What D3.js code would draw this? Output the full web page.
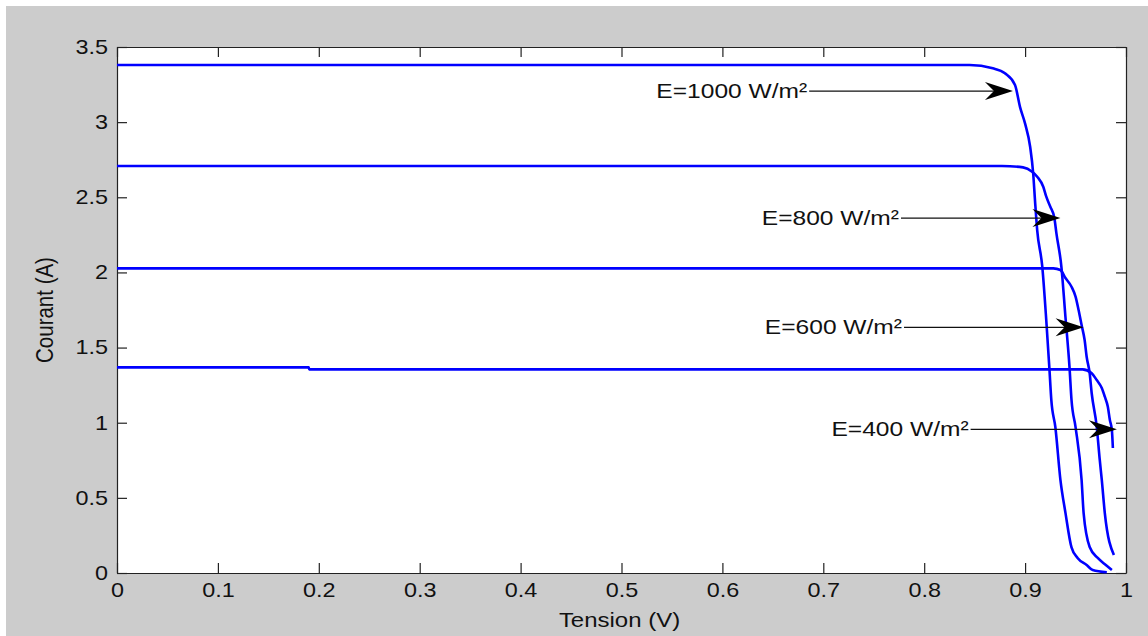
<!DOCTYPE html>
<html>
<head>
<meta charset="utf-8">
<script src="https://cdn.jsdelivr.net/npm/d3@7"></script>
<style>
  body { margin: 0; background: #fff; }
  text { font-family: "Liberation Sans", Arial, sans-serif; fill: #111; }
</style>
</head>
<body>
<svg id="chart"></svg>
<script>
// I-V curves of the cell for 4 irradiance levels
const xTicks = [0, 0.1, 0.2, 0.3, 0.4, 0.5, 0.6, 0.7, 0.8, 0.9, 1]
const yTicks = [0, 0.5, 1, 1.5, 2, 2.5, 3, 3.5]

const v1000 = [0, 0.845, 0.868, 0.880, 0.890, 0.895, 0.900, 0.905, 0.908, 0.910, 0.912, 0.917, 0.921, 0.924, 0.926, 0.930, 0.935, 0.940, 0.946, 0.952, 0.961, 0.967, 0.981]
const i1000 = [3.38, 3.38, 3.358, 3.325, 3.247, 3.10, 2.99, 2.836, 2.66, 2.46, 2.28, 2.04, 1.68, 1.37, 1.15, 0.97, 0.62, 0.40, 0.17, 0.10, 0.053, 0.02, 0.005]

const v800 = [0, 0.877, 0.898, 0.907, 0.912, 0.918, 0.921, 0.925, 0.929, 0.931, 0.936, 0.940, 0.944, 0.946, 0.950, 0.956, 0.958, 0.964, 0.972, 0.980, 0.986]
const i800 = [2.708, 2.708, 2.699, 2.670, 2.637, 2.570, 2.504, 2.437, 2.362, 2.262, 2.036, 1.703, 1.370, 1.151, 0.971, 0.619, 0.399, 0.173, 0.10, 0.053, 0.02]

const v600 = [0, 0.928, 0.935, 0.940, 0.946, 0.950, 0.953, 0.956, 0.959, 0.961, 0.964, 0.966, 0.971, 0.974, 0.976, 0.979, 0.988]
const i600 = [2.027, 2.027, 2.016, 1.963, 1.905, 1.839, 1.750, 1.650, 1.550, 1.439, 1.329, 1.196, 0.973, 0.752, 0.619, 0.399, 0.12]

const v400 = [0, 0.19, 0.1905, 0.957, 0.966, 0.971, 0.976, 0.979, 0.982, 0.984, 0.986, 0.987]
const i400 = [1.368, 1.368, 1.355, 1.355, 1.329, 1.284, 1.231, 1.173, 1.106, 1.018, 0.951, 0.832]

// annotation arrows
const labels = ["E=1000 W/m²", "E=800 W/m²", "E=600 W/m²", "E=400 W/m²"]
const tailV = [0.686, 0.777, 0.780, 0.846]
const tipV = [0.888, 0.935, 0.958, 0.991]
const arrowI = [3.207, 2.362, 1.635, 0.956]

const width = 1148, height = 636
const margin = {top: 47, right: 22, bottom: 63, left: 117}
const sx = 1.17 // text in the figure is a bit wider than plain Arial

const svg = d3.select("#chart")
  .attr("width", width)
  .attr("height", height)

svg.append("rect")
  .attr("x", 6).attr("y", 6)
  .attr("width", width - 6).attr("height", height - 6)
  .attr("fill", "#cccccc")

const x = d3.scaleLinear().domain([0, 1]).range([margin.left, width - margin.right])
const y = d3.scaleLinear().domain([0, 3.5]).range([height - margin.bottom, margin.top])

svg.append("rect")
  .attr("x", x(0)).attr("y", y(3.5))
  .attr("width", x(1) - x(0)).attr("height", y(0) - y(3.5))
  .attr("fill", "#fff")

function stretch(sel) {
  sel.each(function() {
    const t = d3.select(this)
    const tx = +t.attr("x") || 0, ty = +t.attr("y") || 0
    t.attr("x", null).attr("y", null)
      .attr("transform", `translate(${tx},${ty}) scale(${sx},1)`)
  })
}

const fmt = d => String(d)

const axisStyle = g => {
  g.selectAll("path.domain").attr("stroke", "#222").attr("stroke-width", 1.2)
  g.selectAll(".tick line").attr("stroke", "#222").attr("stroke-width", 1.2)
  g.selectAll("text").attr("font-size", 20).attr("font-family", "Liberation Sans, Arial, sans-serif").attr("fill", "#111")
}

svg.append("g")
  .attr("transform", `translate(0,${y(0)})`)
  .call(d3.axisBottom(x).tickValues(xTicks).tickFormat(fmt).tickSize(-10).tickSizeOuter(0).tickPadding(10))
  .call(axisStyle)
  .call(g => g.selectAll("text").call(stretch))

svg.append("g")
  .attr("transform", `translate(0,${y(3.5)})`)
  .call(d3.axisTop(x).tickValues(xTicks).tickFormat("").tickSize(-10).tickSizeOuter(0))
  .call(axisStyle)

svg.append("g")
  .attr("transform", `translate(${x(0)},0)`)
  .call(d3.axisLeft(y).tickValues(yTicks).tickFormat(fmt).tickSize(-10).tickSizeOuter(0).tickPadding(9))
  .call(axisStyle)
  .call(g => g.selectAll("text").call(stretch))

svg.append("g")
  .attr("transform", `translate(${x(1)},0)`)
  .call(d3.axisRight(y).tickValues(yTicks).tickFormat("").tickSize(-10).tickSizeOuter(0))
  .call(axisStyle)

// curves
const series = [
  {name: "1000", v: v1000, i: i1000},
  {name: "800", v: v800, i: i800},
  {name: "600", v: v600, i: i600},
  {name: "400", v: v400, i: i400}
]

const line = d3.line()
  .curve(d3.curveMonotoneX)
  .x(d => x(d[0]))
  .y(d => y(d[1]))

svg.append("g")
  .attr("fill", "none")
  .attr("stroke", "#0000ff")
  .attr("stroke-width", 2.6)
  .attr("stroke-linejoin", "round")
  .selectAll("path")
  .data(series)
  .join("path")
    .attr("d", s => line(s.v.map((v, k) => [v, s.i[k]])))

// annotations
const ann = svg.append("g")
labels.forEach((lab, k) => {
  const ya = y(arrowI[k])
  ann.append("line")
    .attr("x1", x(tailV[k])).attr("x2", x(tipV[k]) - 15)
    .attr("y1", ya).attr("y2", ya)
    .attr("stroke", "#111").attr("stroke-width", 1.2)
  ann.append("path")
    .attr("d", "M0,0L-28,-9L-19,0L-28,9Z")
    .attr("transform", `translate(${x(tipV[k])},${ya})`)
    .attr("fill", "#000")
  ann.append("text")
    .attr("text-anchor", "end")
    .attr("font-size", 21)
    .attr("transform", `translate(${x(tailV[k]) - 2},${ya + 7}) scale(${sx},1)`)
    .text(lab)
})

// axis titles
svg.append("text")
  .attr("text-anchor", "middle")
  .attr("font-size", 20.5)
  .attr("transform", `translate(${(x(0) + x(1)) / 2 - 2},${height - 9}) scale(${sx},1)`)
  .text("Tension (V)")

svg.append("text")
  .attr("text-anchor", "middle")
  .attr("font-size", 20.5)
  .attr("transform", `translate(53,${(y(0) + y(3.5)) / 2}) scale(${sx},1) rotate(-90)`)
  .text("Courant (A)")
</script>
</body>
</html>
